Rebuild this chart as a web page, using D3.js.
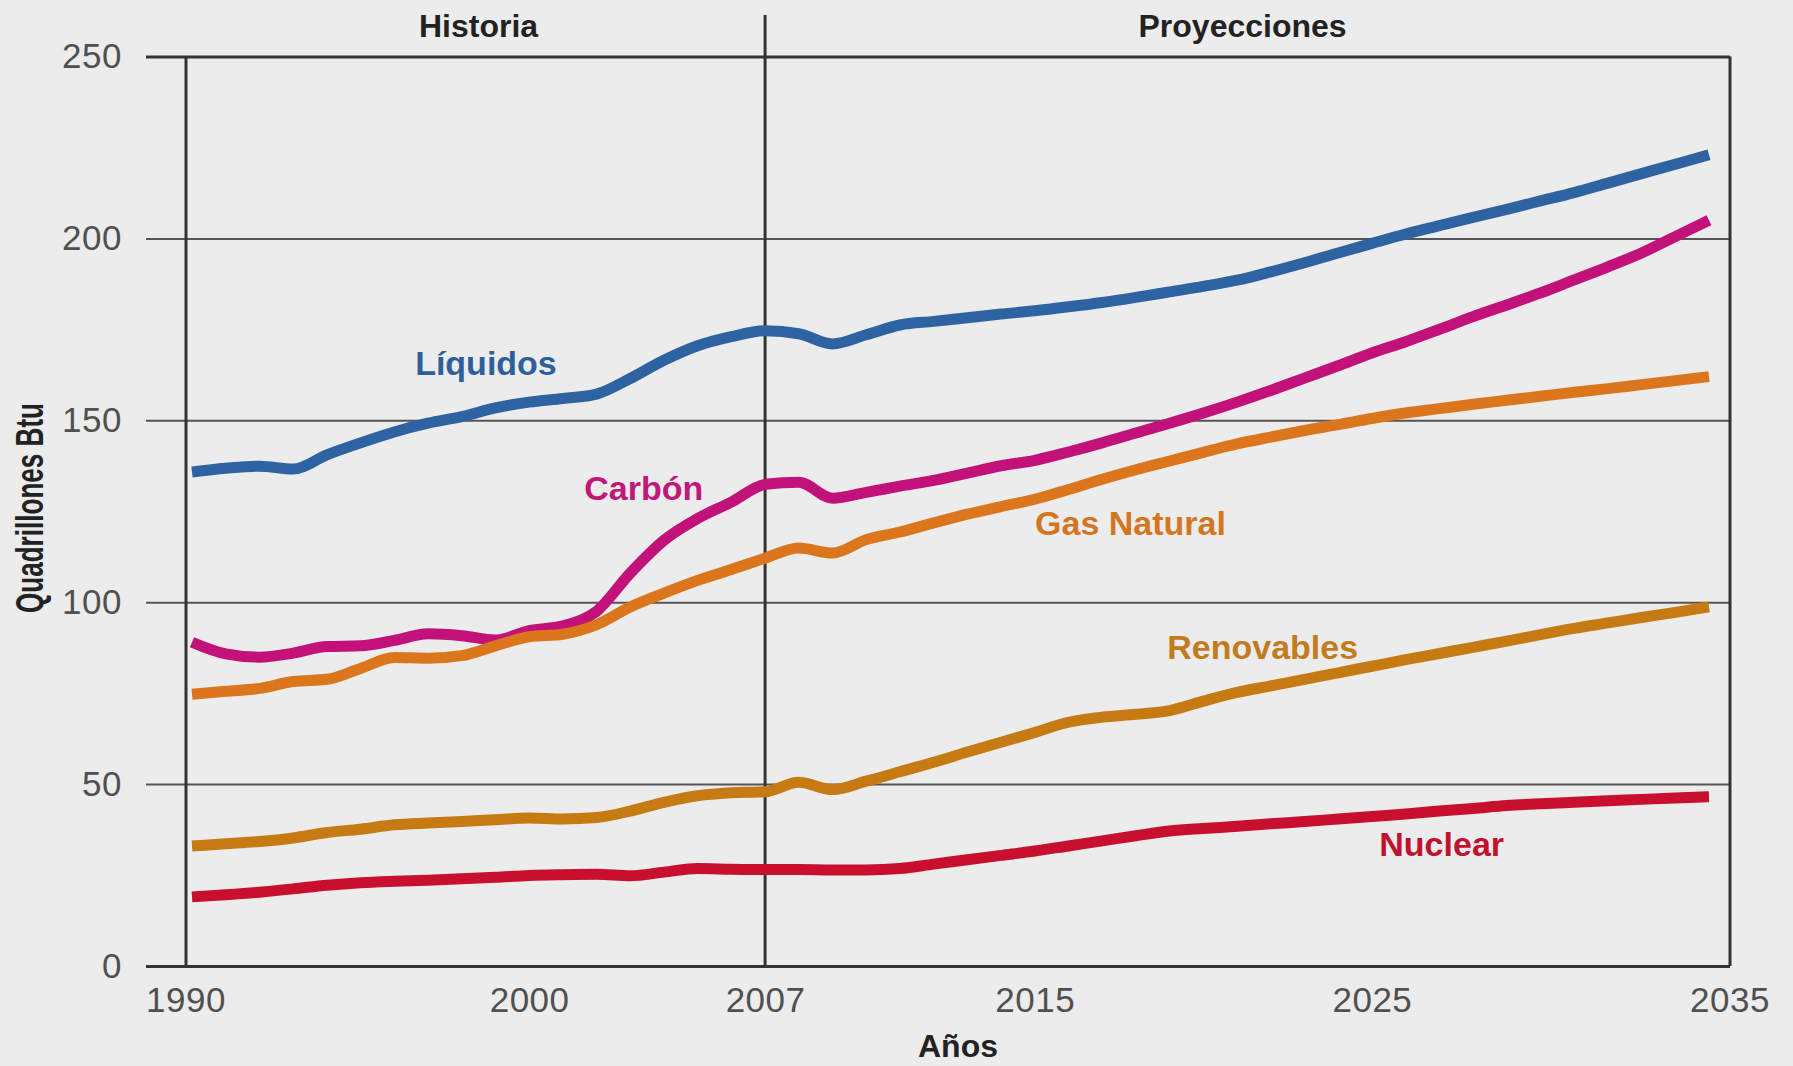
<!DOCTYPE html>
<html>
<head>
<meta charset="utf-8">
<script src="https://cdn.jsdelivr.net/npm/d3@7"></script>
<style>
body { margin: 0; background: #ececec; }
svg { display: block; }
text { font-family: "Liberation Sans", Arial, sans-serif; }
</style>
</head>
<body>
<div id="chart"></div>
<script>
// years of the series (history to 2007, projections after)
var years = [1990, 1991, 1992, 1993, 1994, 1995, 1996, 1997, 1998, 1999,
             2000, 2001, 2002, 2003, 2004, 2005, 2006, 2007, 2008, 2009,
             2010, 2011, 2012, 2013, 2014, 2015, 2016, 2017, 2018, 2019,
             2020, 2021, 2022, 2023, 2024, 2025, 2026, 2027, 2028, 2029,
             2030, 2031, 2032, 2033, 2034, 2035];

// quadrillones Btu
var liquidos = [135.8, 136.8, 137.4, 136.6, 140.5, 143.8, 146.8, 149.2, 151.0, 153.4,
                155.0, 156.0, 157.2, 161.5, 166.5, 170.5, 173.0, 174.6, 173.8, 171.0,
                173.5, 176.2, 177.2, 178.2, 179.2, 180.1, 181.2, 182.4, 183.8, 185.3,
                186.8, 188.5, 190.8, 193.3, 196.0, 198.6, 201.2, 203.5, 205.8, 208.0,
                210.3, 212.6, 215.2, 217.8, 220.4, 223.0];
var carbon = [89.0, 85.8, 84.9, 86.0, 87.8, 88.0, 89.5, 91.3, 90.8, 89.6,
              92.2, 93.5, 97.5, 108.0, 117.0, 123.0, 127.5, 132.4, 133.0, 128.6,
              130.2, 131.9, 133.5, 135.5, 137.5, 139.0, 141.3, 143.8, 146.5, 149.2,
              152.0, 155.0, 158.2, 161.6, 165.0, 168.5, 171.6, 175.0, 178.5, 181.7,
              185.0, 188.6, 192.2, 196.0, 200.5, 205.0];
var gasNatural = [74.7, 75.5, 76.3, 78.2, 78.8, 81.8, 84.8, 84.6, 85.3, 88.0,
                  90.5, 91.2, 93.8, 98.7, 102.5, 106.0, 109.0, 112.1, 114.9, 113.5,
                  117.2, 119.3, 121.8, 124.2, 126.3, 128.3, 131.0, 133.8, 136.4, 138.8,
                  141.2, 143.5, 145.4, 147.2, 148.8, 150.5, 152.0, 153.2, 154.4, 155.5,
                  156.6, 157.7, 158.7, 159.8, 160.9, 162.0];
var renovables = [33.0, 33.6, 34.2, 35.2, 36.7, 37.6, 38.8, 39.3, 39.7, 40.2,
                  40.7, 40.4, 40.8, 42.6, 45.0, 46.8, 47.6, 47.9, 50.5, 48.5,
                  50.8, 53.4, 56.0, 58.8, 61.5, 64.2, 67.0, 68.4, 69.2, 70.2,
                  72.8, 75.2, 77.0, 78.8, 80.6, 82.4, 84.2, 85.9, 87.6, 89.3,
                  91.1, 92.8, 94.3, 95.8, 97.2, 98.7];
var nuclear = [19.0, 19.6, 20.3, 21.2, 22.2, 22.9, 23.3, 23.6, 24.0, 24.4,
               24.9, 25.1, 25.2, 24.8, 25.8, 26.8, 26.6, 26.5, 26.5, 26.4,
               26.4, 26.8, 28.0, 29.2, 30.4, 31.6, 33.0, 34.4, 35.8, 37.1,
               37.8, 38.4, 39.1, 39.7, 40.4, 41.1, 41.8, 42.6, 43.3, 44.1,
               44.6, 45.0, 45.4, 45.8, 46.2, 46.5];

var seriesNames = ["Líquidos", "Carbón", "Gas Natural", "Renovables", "Nuclear"];
var yTicks = [0, 50, 100, 150, 200, 250];
var xTicks = [1990, 2000, 2007, 2015, 2025, 2035];
var splitYear = 2007;

var width = 1793, height = 1066;
var frame = {left: 186, right: 1730, top: 56.5, bottom: 966};

var x = d3.scaleLinear().domain([1990, 2035]).range([192, 1709]);
var y = d3.scaleLinear().domain([0, 250]).range([frame.bottom, frame.top]);

var series = [
    {name: seriesNames[0], values: liquidos,   color: "#2c63a0", label: [1998.72, 162.5], labelColor: "#2f5f9a"},
    {name: seriesNames[1], values: carbon,     color: "#c2127a", label: [2003.4, 128.1],  labelColor: "#c0187a"},
    {name: seriesNames[2], values: gasNatural, color: "#db761c", label: [2017.84, 118.5], labelColor: "#d4761f"},
    {name: seriesNames[3], values: renovables, color: "#c67a12", label: [2021.76, 84.3],  labelColor: "#c27c1e"},
    {name: seriesNames[4], values: nuclear,    color: "#c8102e", label: [2027.07, 30.2],  labelColor: "#c0112e"}
];

var svg = d3.select("#chart").append("svg")
    .attr("width", width)
    .attr("height", height);

svg.append("rect")
    .attr("width", width)
    .attr("height", height)
    .attr("fill", "#ececec");

// horizontal grid + y tick labels
var yAxis = d3.axisLeft(y)
    .tickValues(yTicks)
    .tickSize(-(frame.right - 146))
    .tickPadding(24);

var yg = svg.append("g")
    .attr("class", "axis yaxis")
    .attr("transform", "translate(146,0)")
    .call(yAxis);
yg.select(".domain").remove();
yg.selectAll(".tick line")
    .attr("stroke", function (d) { return (d === 0 || d === 250) ? "#333" : "#555"; })
    .attr("stroke-width", function (d) { return (d === 0 || d === 250) ? 3 : 2; });
yg.selectAll(".tick text")
    .attr("font-size", 35)
    .attr("fill", "#505050")
    .attr("letter-spacing", 0.5);

// frame sides
svg.append("line")
    .attr("x1", frame.left).attr("x2", frame.left)
    .attr("y1", frame.top).attr("y2", frame.bottom)
    .attr("stroke", "#333").attr("stroke-width", 3);
svg.append("line")
    .attr("x1", frame.right).attr("x2", frame.right)
    .attr("y1", frame.top).attr("y2", frame.bottom)
    .attr("stroke", "#333").attr("stroke-width", 3);

// history / projections divider
svg.append("line")
    .attr("x1", x(splitYear)).attr("x2", x(splitYear))
    .attr("y1", 15).attr("y2", frame.bottom)
    .attr("stroke", "#333").attr("stroke-width", 3);

// x axis labels
var xAxis = d3.axisBottom(x)
    .tickValues(xTicks)
    .tickSize(0)
    .tickPadding(21)
    .tickFormat(d3.format("d"));
var xg = svg.append("g")
    .attr("class", "axis xaxis")
    .attr("transform", "translate(0," + frame.bottom + ")")
    .call(xAxis);
xg.select(".domain").remove();
xg.selectAll(".tick text")
    .attr("font-size", 35)
    .attr("fill", "#505050")
    .attr("letter-spacing", 0.5);
// end labels sit on the frame corners
xg.selectAll(".tick")
    .filter(function (d) { return d === 1990; })
    .attr("transform", "translate(" + frame.left + ",0)");
xg.selectAll(".tick")
    .filter(function (d) { return d === 2035; })
    .attr("transform", "translate(" + frame.right + ",0)");

// lines
var line = d3.line()
    .curve(d3.curveMonotoneX)
    .x(function (d, i) { return x(years[i]); })
    .y(function (d) { return y(d); });

svg.append("g")
    .attr("class", "linegroup")
    .selectAll("path")
    .data(series)
    .enter()
    .append("path")
    .attr("d", function (d) { return line(d.values); })
    .attr("fill", "none")
    .attr("stroke", function (d) { return d.color; })
    .attr("stroke-width", 11)
    .attr("stroke-linejoin", "round")
    .attr("stroke-linecap", "butt");

// series labels
svg.append("g")
    .selectAll("text")
    .data(series)
    .enter()
    .append("text")
    .attr("x", function (d) { return x(d.label[0]); })
    .attr("y", function (d) { return y(d.label[1]); })
    .attr("text-anchor", "middle")
    .attr("font-size", 34)
    .attr("font-weight", "bold")
    .attr("fill", function (d) { return d.labelColor; })
    .text(function (d) { return d.name; });

// section titles
svg.append("text")
    .attr("x", (frame.left + x(splitYear)) / 2 + 3)
    .attr("y", 37)
    .attr("text-anchor", "middle")
    .attr("font-size", 32)
    .attr("font-weight", "bold")
    .attr("fill", "#222")
    .text("Historia");
svg.append("text")
    .attr("x", (x(splitYear) + frame.right) / 2 - 5)
    .attr("y", 37)
    .attr("text-anchor", "middle")
    .attr("font-size", 32)
    .attr("font-weight", "bold")
    .attr("fill", "#222")
    .text("Proyecciones");

// axis titles
svg.append("text")
    .attr("transform", "translate(43,508) rotate(-90)")
    .attr("text-anchor", "middle")
    .attr("font-size", 38)
    .attr("font-weight", "bold")
    .attr("fill", "#222")
    .attr("textLength", 210)
    .attr("lengthAdjust", "spacingAndGlyphs")
    .text("Quadrillones Btu");

svg.append("text")
    .attr("x", (frame.left + frame.right) / 2)
    .attr("y", 1057)
    .attr("text-anchor", "middle")
    .attr("font-size", 32)
    .attr("font-weight", "bold")
    .attr("fill", "#222")
    .text("Años");
</script>
</body>
</html>
